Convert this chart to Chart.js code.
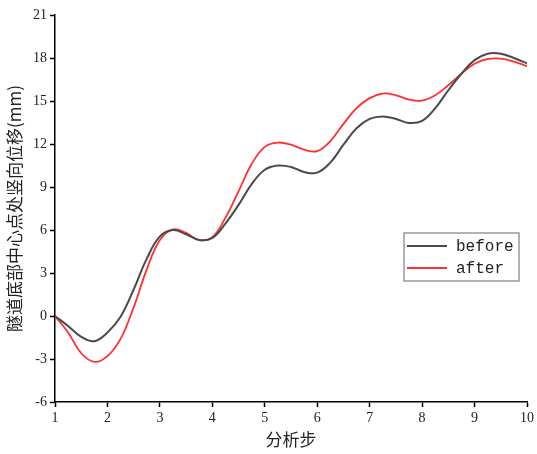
<!DOCTYPE html>
<html><head><meta charset="utf-8">
<script src="https://cdn.jsdelivr.net/npm/chart.js@4"></script>
<style>html,body{margin:0;padding:0;background:#fff}#wrap{width:537px;height:454px}</style>
</head><body><div id="wrap"><canvas id="c" width="537" height="454"></canvas></div>
<script>
const seriesNames = ["before", "after"];
const steps = [1, 1.25, 1.5, 1.75, 2, 2.25, 2.5, 2.75, 3, 3.25, 3.5, 3.75, 4, 4.25, 4.5, 4.75, 5, 5.25, 5.5, 5.75, 6, 6.25, 6.5, 6.75, 7, 7.25, 7.5, 7.75, 8, 8.25, 8.5, 8.75, 9, 9.25, 9.5, 9.75, 10];
const beforeY = [0, -0.7, -1.45, -1.76, -1.15, -0.05, 1.85, 4.0, 5.55, 6.0, 5.7, 5.3, 5.45, 6.45, 7.75, 9.2, 10.2, 10.5, 10.4, 10.05, 10.0, 10.7, 11.95, 13.1, 13.75, 13.92, 13.75, 13.47, 13.62, 14.5, 15.75, 16.9, 17.85, 18.3, 18.3, 18.0, 17.63];
const afterY = [0, -1.15, -2.6, -3.2, -2.8, -1.6, 0.6, 3.25, 5.3, 6.05, 5.8, 5.3, 5.5, 6.85, 8.7, 10.6, 11.8, 12.1, 11.95, 11.6, 11.5, 12.2, 13.4, 14.5, 15.2, 15.52, 15.4, 15.1, 15.03, 15.4, 16.1, 16.9, 17.6, 17.93, 17.95, 17.75, 17.44];
const xTicks = [1, 2, 3, 4, 5, 6, 7, 8, 9, 10];
const yTicks = [-6, -3, 0, 3, 6, 9, 12, 15, 18, 21];
const xTitle = "分析步";
const yTitle = "隧道底部中心点处竖向位移(mm)";

const colors = ["#4a4a4a", "#ff3030"];
const toPts = (xs, ys) => xs.map((x, i) => ({x: x, y: ys[i]}));

const legendPlugin = {
  id: 'boxLegend',
  afterDraw(chart) {
    const ctx = chart.ctx;
    ctx.save();
    const x0 = 404, y0 = 233, w = 115, h = 48;
    ctx.strokeStyle = '#999';
    ctx.lineWidth = 1.5;
    ctx.strokeRect(x0, y0, w, h);
    ctx.font = '16px "Liberation Mono"';
    ctx.textBaseline = 'middle';
    chart.data.datasets.forEach((ds, i) => {
      const y = y0 + 13 + i * 22;
      ctx.strokeStyle = ds.borderColor;
      ctx.lineWidth = 2;
      ctx.beginPath(); ctx.moveTo(x0 + 3, y); ctx.lineTo(x0 + 43, y); ctx.stroke();
      ctx.fillStyle = '#222';
      ctx.fillText(ds.label, x0 + 52, y + 1);
    });
    ctx.restore();
  }
};

new Chart(document.getElementById('c'), {
  type: 'line',
  data: {
    datasets: [
      {label: seriesNames[0], data: toPts(steps, beforeY), borderColor: colors[0], borderWidth: 2, pointRadius: 0, tension: 0.4, fill: false},
      {label: seriesNames[1], data: toPts(steps, afterY), borderColor: colors[1], borderWidth: 1.8, pointRadius: 0, tension: 0.4, fill: false}
    ]
  },
  options: {
    responsive: false,
    animation: false,
    layout: {padding: {left: 4, right: 10, top: 15, bottom: 4}},
    plugins: {legend: {display: false}, tooltip: {enabled: false}},
    scales: {
      x: {
        type: 'linear', min: 1, max: 10,
        afterBuildTicks: s => { s.ticks = xTicks.map(v => ({value: v})); },
        afterFit: s => { s.height = 48; },
        grid: {display: true, drawOnChartArea: false, drawTicks: true, tickLength: 5, tickColor: '#000', tickWidth: 1.5},
        border: {display: true, color: '#000', width: 1.5},
        ticks: {color: '#222', font: {family: '"Liberation Serif"', size: 14}, padding: 3, maxRotation: 0},
        title: {display: true, text: xTitle, color: '#222', font: {family: '"Noto Sans CJK SC"', size: 17}, padding: {top: 0, bottom: 0}}
      },
      y: {
        type: 'linear', min: -6, max: 21,
        afterBuildTicks: s => { s.ticks = yTicks.map(v => ({value: v})); },
        afterFit: s => { s.width = 51; },
        grid: {display: true, drawOnChartArea: false, drawTicks: true, tickLength: 5, tickColor: '#000', tickWidth: 1.5},
        border: {display: true, color: '#000', width: 1.5},
        ticks: {color: '#222', font: {family: '"Liberation Serif"', size: 14}, padding: 3},
        title: {display: true, text: yTitle, color: '#222', font: {family: '"Noto Sans CJK SC"', size: 17}, padding: {top: 0, bottom: 0}}
      }
    }
  },
  plugins: [legendPlugin]
});
</script></body></html>
